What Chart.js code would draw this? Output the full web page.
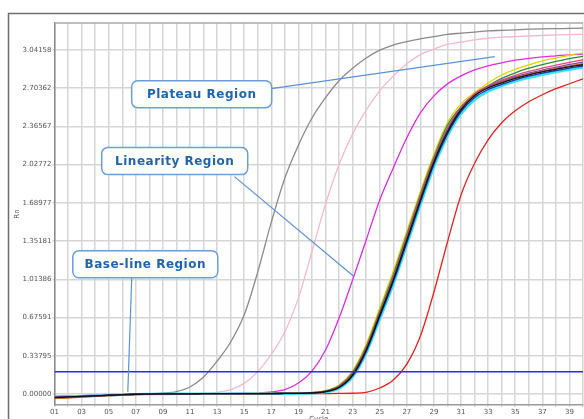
<!DOCTYPE html>
<html>
<head>
<meta charset="utf-8">
<title>Amplification plot</title>
<script src="https://cdn.jsdelivr.net/npm/chart.js@4"></script>
<style>
  html, body { margin: 0; padding: 0; background: #fff; overflow: hidden; }
  #wrap { position: absolute; left: 0; top: 0; width: 584px; height: 440px; }
</style>
</head>
<body>
<div id="wrap"><canvas id="amp" width="584" height="440"></canvas></div>
<script>
// cycles and Rn readings per well
const cycles = [1, 2, 3, 4, 5, 6, 7, 8, 9, 10, 11, 12, 13, 14, 15, 16, 17, 18, 19, 20,
  21, 22, 23, 24, 25, 26, 27, 28, 29, 30, 31, 32, 33, 34, 35, 36, 37, 38, 39, 40];

const yTicks = [0, 0.33795, 0.67591, 1.01386, 1.35181, 1.68977, 2.02772, 2.36567, 2.70362, 3.04158];
const threshold = 0.196;

const grayRn = [-0.025, -0.022, -0.018, -0.014, -0.010, -0.006, -0.002, 0.002, 0.008, 0.022,
  0.062, 0.150, 0.290, 0.460, 0.700, 1.080, 1.520, 1.910, 2.200, 2.440,
  2.620, 2.770, 2.880, 2.970, 3.040, 3.085, 3.115, 3.140, 3.160, 3.180,
  3.190, 3.200, 3.210, 3.215, 3.220, 3.225, 3.228, 3.230, 3.232, 3.234];
const pinkRn = [-0.022, -0.019, -0.016, -0.012, -0.009, -0.005, -0.002, 0.000, 0.002, 0.003,
  0.004, 0.006, 0.014, 0.038, 0.094, 0.198, 0.350, 0.550, 0.850, 1.260,
  1.680, 2.030, 2.300, 2.510, 2.680, 2.810, 2.920, 3.000, 3.050, 3.090,
  3.110, 3.130, 3.145, 3.155, 3.160, 3.165, 3.170, 3.175, 3.178, 3.180];
const magentaRn = [-0.020, -0.017, -0.014, -0.011, -0.008, -0.005, -0.002, 0.000, 0.001, 0.002,
  0.003, 0.003, 0.004, 0.005, 0.007, 0.010, 0.018, 0.038, 0.097, 0.203,
  0.389, 0.672, 1.009, 1.362, 1.716, 1.999, 2.265, 2.486, 2.636, 2.742,
  2.813, 2.866, 2.902, 2.928, 2.951, 2.968, 2.981, 2.990, 2.999, 3.004];
const blackRn = [-0.030, -0.026, -0.021, -0.016, -0.011, -0.006, -0.002, 0.000, 0.001, 0.002,
  0.002, 0.003, 0.003, 0.003, 0.004, 0.004, 0.004, 0.005, 0.006, 0.010,
  0.022, 0.060, 0.170, 0.389, 0.699, 1.009, 1.362, 1.716, 2.052, 2.318,
  2.513, 2.637, 2.707, 2.751, 2.791, 2.822, 2.848, 2.871, 2.893, 2.911];
const yellowRn = [-0.038, -0.032, -0.026, -0.020, -0.014, -0.008, -0.003, 0.000, 0.001, 0.002,
  0.003, 0.003, 0.003, 0.004, 0.004, 0.005, 0.005, 0.006, 0.008, 0.014,
  0.030, 0.080, 0.205, 0.440, 0.760, 1.085, 1.440, 1.790, 2.120, 2.400,
  2.565, 2.665, 2.750, 2.820, 2.870, 2.910, 2.945, 2.970, 2.995, 3.015];
const greenRn = [-0.034, -0.029, -0.023, -0.018, -0.012, -0.007, -0.002, 0.000, 0.001, 0.002,
  0.002, 0.003, 0.003, 0.004, 0.004, 0.004, 0.005, 0.006, 0.007, 0.012,
  0.027, 0.072, 0.192, 0.420, 0.735, 1.055, 1.410, 1.765, 2.095, 2.375,
  2.540, 2.645, 2.725, 2.790, 2.840, 2.880, 2.912, 2.940, 2.965, 2.985];
const hotPinkRn = [-0.028, -0.024, -0.020, -0.015, -0.010, -0.006, -0.002, 0.000, 0.001, 0.002,
  0.002, 0.003, 0.003, 0.003, 0.004, 0.004, 0.005, 0.005, 0.006, 0.011,
  0.025, 0.068, 0.185, 0.410, 0.720, 1.035, 1.395, 1.750, 2.080, 2.350,
  2.535, 2.655, 2.725, 2.775, 2.818, 2.852, 2.882, 2.908, 2.932, 2.955];
const purpleRn = [-0.031, -0.027, -0.022, -0.017, -0.011, -0.006, -0.002, 0.000, 0.001, 0.002,
  0.002, 0.003, 0.003, 0.003, 0.004, 0.004, 0.004, 0.005, 0.006, 0.010,
  0.024, 0.065, 0.180, 0.400, 0.710, 1.025, 1.380, 1.735, 2.068, 2.338,
  2.527, 2.648, 2.718, 2.764, 2.805, 2.836, 2.864, 2.889, 2.914, 2.935];
const brownRn = [-0.040, -0.034, -0.027, -0.021, -0.015, -0.009, -0.004, -0.001, 0.001, 0.002,
  0.002, 0.003, 0.003, 0.003, 0.004, 0.004, 0.004, 0.005, 0.006, 0.010,
  0.023, 0.063, 0.175, 0.395, 0.705, 1.018, 1.372, 1.726, 2.060, 2.328,
  2.520, 2.643, 2.712, 2.757, 2.797, 2.828, 2.855, 2.878, 2.900, 2.920];
const navyRn = [-0.029, -0.025, -0.021, -0.016, -0.011, -0.006, -0.002, 0.000, 0.001, 0.002,
  0.002, 0.003, 0.003, 0.003, 0.004, 0.004, 0.004, 0.005, 0.005, 0.009,
  0.020, 0.056, 0.160, 0.375, 0.680, 0.990, 1.340, 1.695, 2.032, 2.300,
  2.497, 2.622, 2.692, 2.738, 2.778, 2.810, 2.836, 2.860, 2.882, 2.900];
const cyanRn = [-0.027, -0.023, -0.019, -0.015, -0.010, -0.006, -0.002, 0.000, 0.001, 0.002,
  0.002, 0.002, 0.003, 0.003, 0.003, 0.004, 0.004, 0.004, 0.005, 0.008,
  0.018, 0.050, 0.150, 0.360, 0.660, 0.970, 1.320, 1.672, 2.010, 2.280,
  2.477, 2.602, 2.675, 2.725, 2.765, 2.797, 2.823, 2.847, 2.868, 2.888];
const redRn = [-0.036, -0.031, -0.025, -0.019, -0.014, -0.008, -0.004, -0.001, 0.000, 0.001,
  0.001, 0.002, 0.002, 0.002, 0.002, 0.003, 0.003, 0.003, 0.003, 0.004,
  0.004, 0.005, 0.007, 0.015, 0.053, 0.124, 0.265, 0.513, 0.902, 1.344,
  1.760, 2.040, 2.247, 2.398, 2.504, 2.584, 2.646, 2.699, 2.743, 2.787];

// callout boxes, anchored in (cycle, Rn) units
const callouts = [
  { text: 'Plateau Region', at: [11.86, 2.651], w: 140, from: [17.0, 2.70], to: [33.49, 2.983] },
  { text: 'Linearity Region', at: [9.87, 2.059], w: 146, from: [14.28, 1.922], to: [23.12, 1.037] },
  { text: 'Base-line Region', at: [7.70, 1.147], w: 145, from: [6.70, 1.028], to: [6.41, 0.019] }
];

function curve(data, color, width) {
  return {
    data: data,
    borderColor: color,
    borderWidth: width || 1.3,
    pointRadius: 0,
    cubicInterpolationMode: 'monotone',
    fill: false
  };
}

const framePlugin = {
  id: 'frame',
  beforeDraw(chart) {
    const ctx = chart.ctx;
    ctx.save();
    ctx.fillStyle = '#fff';
    ctx.fillRect(0, 0, chart.width, chart.height);
    ctx.strokeStyle = '#6e6e6e';
    ctx.lineWidth = 1.5;
    ctx.strokeRect(8.5, 13.5, 700, 600);
    ctx.restore();
  },
  afterDraw(chart) {
    const a = chart.chartArea, ctx = chart.ctx;
    ctx.save();
    ctx.strokeStyle = '#a8a8a8';
    ctx.lineWidth = 1.5;
    ctx.beginPath();
    ctx.moveTo(a.left, a.top);
    ctx.lineTo(a.right, a.top);
    ctx.stroke();
    ctx.restore();
  }
};

function roundRect(ctx, x, y, w, h, r) {
  ctx.beginPath();
  ctx.moveTo(x + r, y);
  ctx.arcTo(x + w, y, x + w, y + h, r);
  ctx.arcTo(x + w, y + h, x, y + h, r);
  ctx.arcTo(x, y + h, x, y, r);
  ctx.arcTo(x, y, x + w, y, r);
  ctx.closePath();
}

const calloutPlugin = {
  id: 'callouts',
  afterDatasetsDraw(chart) {
    const ctx = chart.ctx;
    const xs = chart.scales.x, ys = chart.scales.y;
    ctx.save();
    callouts.forEach(c => {
      ctx.strokeStyle = '#5b93d3';
      ctx.lineWidth = 1.2;
      ctx.beginPath();
      ctx.moveTo(xs.getPixelForValue(c.from[0]), ys.getPixelForValue(c.from[1]));
      ctx.lineTo(xs.getPixelForValue(c.to[0]), ys.getPixelForValue(c.to[1]));
      ctx.stroke();
    });
    callouts.forEach(c => {
      const cx = xs.getPixelForValue(c.at[0]);
      const cy = ys.getPixelForValue(c.at[1]);
      const h = 27;
      roundRect(ctx, cx - c.w / 2, cy - h / 2, c.w, h, 6);
      ctx.fillStyle = '#fff';
      ctx.fill();
      ctx.strokeStyle = '#6d9ed8';
      ctx.lineWidth = 1.5;
      ctx.stroke();
      ctx.fillStyle = '#1f64ad';
      ctx.font = 'bold 12px "DejaVu Sans"';
      ctx.letterSpacing = '0.5px';
      ctx.textAlign = 'center';
      ctx.textBaseline = 'middle';
      ctx.fillText(c.text, cx, cy + 1);
    });
    ctx.restore();
  }
};

const tickFont = { family: 'DejaVu Sans', size: 7 };

const config = {
  type: 'line',
  data: {
    labels: cycles,
    datasets: [
      {
        data: [{ x: 1, y: threshold }, { x: 40, y: threshold }],
        borderColor: '#2b2be6',
        borderWidth: 1.5,
        pointRadius: 0
      },
      curve(blackRn, '#111111'),
      curve(navyRn, '#1c2fa8'),
      curve(brownRn, '#b8642a'),
      curve(purpleRn, '#8b3fa3'),
      curve(hotPinkRn, '#e2487e'),
      curve(greenRn, '#2e8b3a'),
      curve(yellowRn, '#e3d200'),
      curve(cyanRn, '#2fe3f2', 2.6),
      curve(redRn, '#e2231f'),
      curve(magentaRn, '#e22ae2'),
      curve(pinkRn, '#f6b9c9'),
      curve(grayRn, '#8a8a8a')
    ]
  },
  options: {
    responsive: false,
    animation: false,
    devicePixelRatio: 1,
    layout: { padding: { left: 0, right: 0, top: 23, bottom: 0 } },
    plugins: { legend: { display: false }, tooltip: { enabled: false } },
    scales: {
      x: {
        type: 'linear',
        min: 1,
        max: 40,
        afterFit(scale) { scale.height = 35; },
        border: { color: '#9a9a9a', width: 1.5 },
        grid: { color: '#d6d6d6', lineWidth: 1.5, tickLength: 2 },
        ticks: {
          stepSize: 1,
          autoSkip: false,
          maxRotation: 0,
          padding: 1,
          color: '#555',
          font: tickFont,
          callback: v => (v % 2 ? String(v).padStart(2, '0') : '')
        },
        title: { display: true, text: 'Cycle', color: '#555', font: tickFont, padding: { top: 0, bottom: 17 } }
      },
      y: {
        min: -0.097,
        max: 3.28,
        afterFit(scale) { scale.width = 54.5; },
        afterBuildTicks(scale) { scale.ticks = yTicks.map(v => ({ value: v })); },
        border: { color: '#8a8a8a', width: 1.5 },
        grid: { color: '#d6d6d6', lineWidth: 1.5, tickLength: 2 },
        ticks: {
          padding: 1,
          color: '#555',
          font: tickFont,
          callback: v => v.toFixed(5)
        },
        title: { display: true, text: 'Rn', color: '#555', font: tickFont, padding: { top: 13, bottom: 0 } }
      }
    }
  },
  plugins: [framePlugin, calloutPlugin]
};

const ampChart = new Chart(document.getElementById('amp'), config);
</script>
</body>
</html>
